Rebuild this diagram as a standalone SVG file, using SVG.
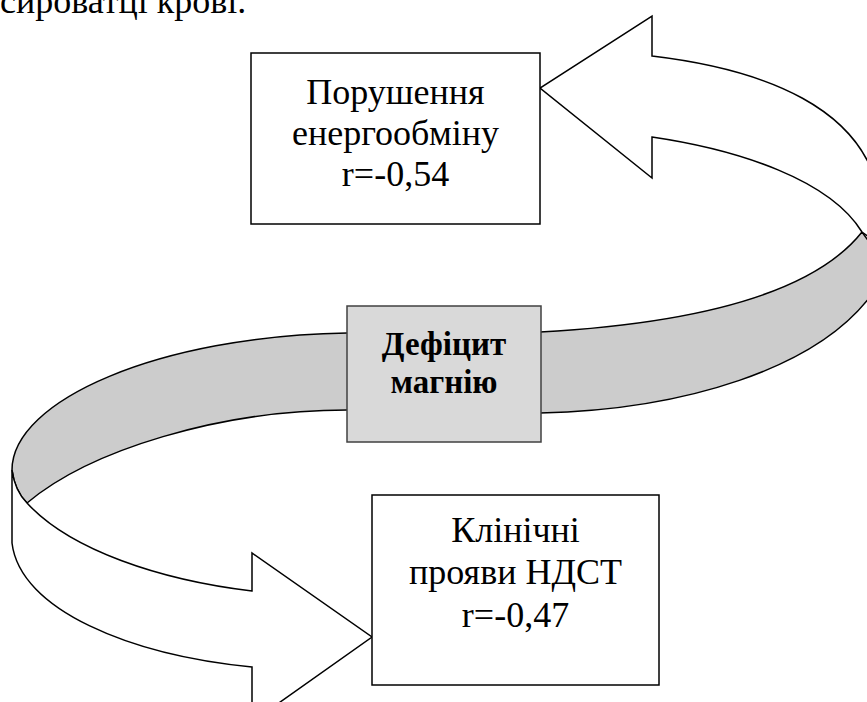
<svg xmlns="http://www.w3.org/2000/svg" width="867" height="702" viewBox="0 0 867 702">
  <style>
    .txt { font-family: "Liberation Serif", "Times New Roman", serif; font-size: 36px; fill: #000; text-anchor: middle; }
    .bold { font-weight: bold; font-size: 33px; }
    .box { fill: #fff; stroke: #000; stroke-width: 1.5; }
    .band { fill: #cccccc; stroke: #000; stroke-width: 1.5; stroke-linejoin: round; }
    .ribbon { fill: #fff; stroke: #000; stroke-width: 1.5; stroke-linejoin: miter; }
  </style>
  <rect width="867" height="702" fill="#fff"/>

  <!-- tail of the preceding paragraph -->
  <text class="txt" x="0" y="13" style="text-anchor:start">сироватці крові.</text>

  <!-- spiral ribbon arrows -->
  <g id="connectors">
    <!-- back (inner, shaded) part of the loop -->
    <path class="band" d="M 862,232 C 820,285 720,322 540,332 L 347,333 C 160,336 12,400 12,470 C 14,485 19,495 27,503 C 90,450 220,410 347,410 L 540,413 C 680,410 820,370 875,290 L 875,250 Z"/>
    <!-- upper front part ending in arrow to the top box -->
    <path class="ribbon" d="M 652,56 C 770,70 860,110 878,190 L 880,245 L 862,232 C 830,180 740,150 652,137 L 652,178 L 540,88 L 652,16 Z"/>
    <!-- lower front part ending in arrow to the bottom box -->
    <path class="ribbon" d="M 12,470 L 12,543 C 20,610 130,655 252,667 L 252,722 L 372,637 L 252,553 L 252,591 C 160,580 70,550 27,503 C 19,495 14,485 12,470 Z"/>
  </g>

  <g id="node-energy">
    <rect class="box" x="251" y="53" width="289" height="171"/>
    <text class="txt" x="395.5" y="104">Порушення</text>
    <text class="txt" x="395.5" y="145">енергообміну</text>
    <text class="txt" x="395.5" y="186">r=-0,54</text>
  </g>

  <g id="node-magnesium">
    <rect x="347" y="306" width="194" height="136" fill="#d9d9d9" stroke="#404040" stroke-width="1.5"/>
    <text class="txt bold" x="444" y="355">Дефіцит</text>
    <text class="txt bold" x="444" y="393">магнію</text>
  </g>

  <g id="node-clinical">
    <rect class="box" x="372" y="495" width="287" height="190"/>
    <text class="txt" x="515.5" y="542">Клінічні</text>
    <text class="txt" x="515.5" y="584">прояви НДСТ</text>
    <text class="txt" x="515.5" y="627">r=-0,47</text>
  </g>
</svg>
